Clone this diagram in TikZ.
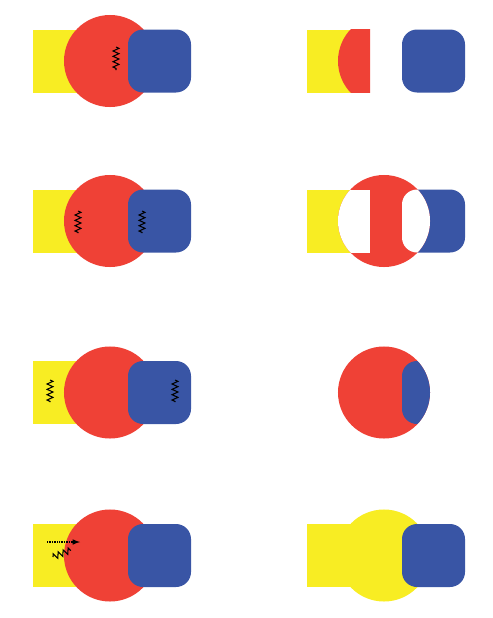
\documentclass[tikz,border=0pt]{standalone}
\usepackage{xcolor}
\usetikzlibrary{decorations.pathmorphing,arrows}
\definecolor{sunyellow}{RGB}{248,237,35}
\definecolor{tomred}{RGB}{239,65,54}
\definecolor{inkblue}{RGB}{57,85,165}

\begin{document}
\begin{tikzpicture}[x=0.025cm, y=-0.025cm,
    spring/.style={black, line width=0.75pt, decorate, decoration={zigzag, segment length=3.8pt, amplitude=2.1pt}}]
     \useasboundingbox (0,0) rectangle (493,618);
     % left column: square, disc, rounded square
     \foreach \y in {61,221,392.5,555.5} {
       \fill [sunyellow] (33,\y-31.5) rectangle (96,\y+31.5);
       \fill [tomred] (110,\y) circle [radius=1.15cm];
       \fill [inkblue, rounded corners=0.375cm] (128,\y-31.5) rectangle (191,\y+31.5);
     }
     \draw [spring] (116,47) -- (116,70);
     \draw [spring] (78,211) -- (78,233);
     \draw [spring] (142,211) -- (142,233);
     \draw [spring] (50,380) -- (50,402);
     \draw [spring] (175,380) -- (175,402);
     \draw [line width=0.8pt, dash pattern=on 0.6pt off 0.6pt, -latex] (47,542) -- (80,542);
     \draw [spring] (53,557) -- (71,550);
     % right column
     \fill [sunyellow] (307,29.5) rectangle (370,92.5);
     \begin{scope}
       \clip (307,29.5) rectangle (370,92.5);
       \fill [tomred] (384,61) circle [radius=1.15cm];
     \end{scope}
     \fill [inkblue, rounded corners=0.375cm] (402,29.5) rectangle (465,92.5);
     \fill [sunyellow] (307,189.5) rectangle (370,252.5);
     \fill [inkblue, rounded corners=0.375cm] (402,189.5) rectangle (465,252.5);
     \fill [tomred] (384,221) circle [radius=1.15cm];
     \begin{scope}
       \clip (384,221) circle [radius=1.15cm];
       \fill [white] (307,189.5) rectangle (370,252.5);
       \fill [white, rounded corners=0.375cm] (402,189.5) rectangle (465,252.5);
     \end{scope}
     \fill [tomred] (384,392.5) circle [radius=1.15cm];
     \begin{scope}
       \clip (384,392.5) circle [radius=1.15cm];
       \fill [inkblue, rounded corners=0.375cm] (402,361) rectangle (465,424);
     \end{scope}
     \fill [sunyellow] (307,524) rectangle (370,587);
     \fill [sunyellow] (384,555.5) circle [radius=1.15cm];
     \fill [inkblue, rounded corners=0.375cm] (402,524) rectangle (465,587);
\end{tikzpicture}
\end{document}
